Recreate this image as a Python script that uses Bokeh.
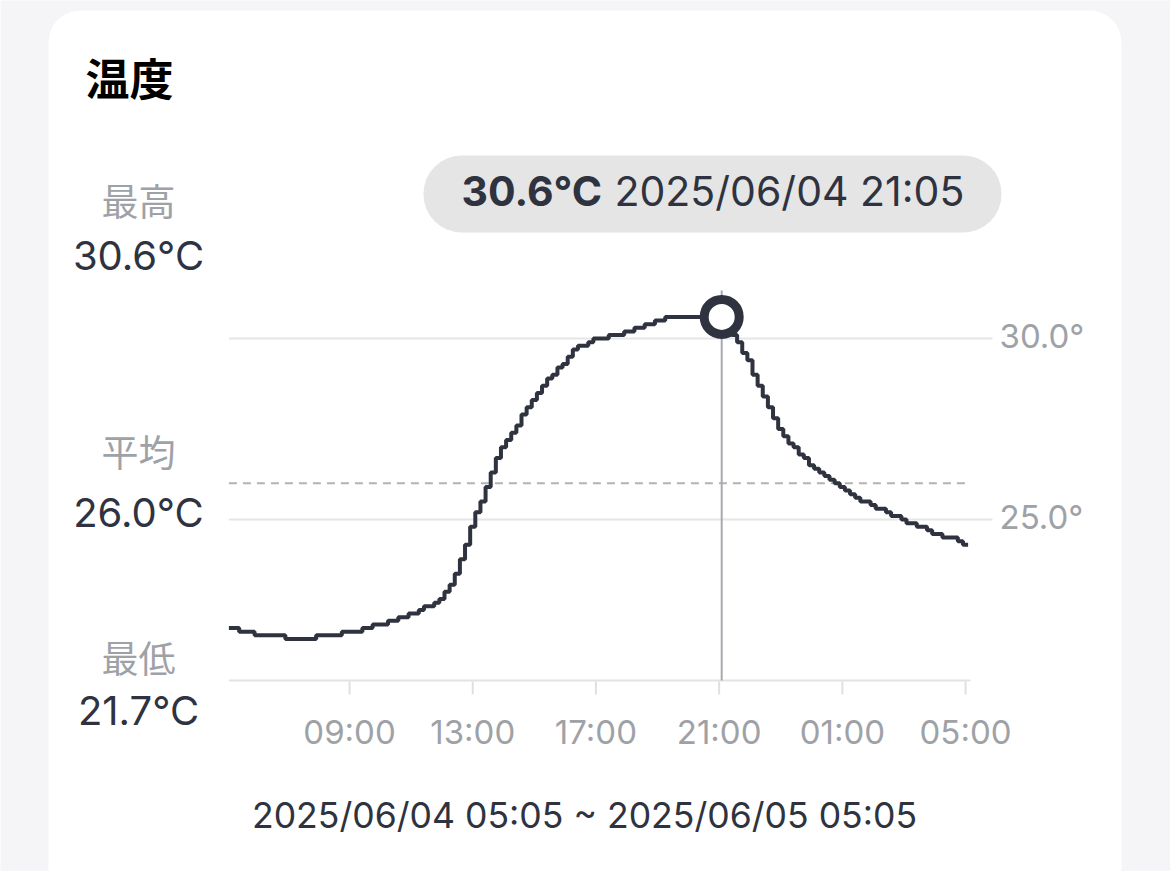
import pandas as pd
from bokeh.plotting import figure
from bokeh.models import Range1d, ColumnDataSource
from bokeh.core.properties import value
from bokeh.embed import file_html
from bokeh.resources import INLINE

# ---------------- data ----------------
title_text = "温度"
stat_names = ["最高", "平均", "最低"]
stat_values = [30.6, 26.0, 21.7]          # max, avg, min (°C)
start_time = "2025-06-04 05:05"
end_time = "2025-06-05 05:05"
sample_step = "10min"
temps = [
    22.0, 22.0, 21.9, 21.9, 21.9, 21.8,
    21.8, 21.8, 21.8, 21.8, 21.8, 21.7,
    21.7, 21.7, 21.7, 21.7, 21.7, 21.8,
    21.8, 21.8, 21.8, 21.8, 21.9, 21.9,
    21.9, 21.9, 22.0, 22.0, 22.1, 22.1,
    22.1, 22.2, 22.2, 22.3, 22.3, 22.4,
    22.4, 22.5, 22.6, 22.6, 22.7, 22.8,
    23.0, 23.2, 23.5, 23.9, 24.3, 24.8,
    25.2, 25.5, 25.9, 26.3, 26.7, 27.0,
    27.2, 27.4, 27.6, 27.9, 28.1, 28.3,
    28.5, 28.7, 28.9, 29.0, 29.2, 29.3,
    29.5, 29.7, 29.8, 29.8, 29.9, 30.0,
    30.0, 30.0, 30.1, 30.1, 30.1, 30.2,
    30.2, 30.3, 30.3, 30.4, 30.4, 30.5,
    30.5, 30.6, 30.6, 30.6, 30.6, 30.6,
    30.6, 30.6, 30.6, 30.6, 30.6, 30.6,
    30.6, 30.3, 30.1, 29.9, 29.6, 29.4,
    29.0, 28.7, 28.4, 28.1, 27.8, 27.5,
    27.3, 27.1, 27.0, 26.8, 26.7, 26.5,
    26.4, 26.3, 26.2, 26.1, 26.0, 25.9,
    25.8, 25.7, 25.6, 25.5, 25.5, 25.4,
    25.3, 25.3, 25.2, 25.1, 25.1, 25.0,
    24.9, 24.9, 24.8, 24.8, 24.7, 24.6,
    24.6, 24.5, 24.5, 24.5, 24.4, 24.3,
    24.3,
]
x_tick_times = ["2025-06-04 09:00", "2025-06-04 13:00", "2025-06-04 17:00",
                "2025-06-04 21:00", "2025-06-05 01:00", "2025-06-05 05:00"]
x_tick_labels = ["09:00", "13:00", "17:00", "21:00", "01:00", "05:00"]
y_ticks = [30.0, 25.0]
y_tick_labels = ["30.0°", "25.0°"]
temp_floor = 20.55      # value at the bottom of the plot area
temp_ceiling = 31.33    # value at the top of the plot area
max_time = "2025-06-04 21:05"
tooltip_value = "30.6°C"
tooltip_time = "2025/06/04 21:05"
range_text = "2025/06/04 05:05 ~ 2025/06/05 05:05"

# ---------------- layout (canvas pixels, y down) ----------------
W, H = 1170, 871
PLOT_L, PLOT_R = 228.4, 967.6       # pixel span of start_time .. end_time
Y_HI_PX, Y_LO_PX = 290.0, 680.0     # pixel span of temp_ceiling .. temp_floor

def ms(s):
    return pd.Timestamp(s).value / 1e6

t0, t1 = ms(start_time), ms(end_time)
ms_per_px = (t1 - t0) / (PLOT_R - PLOT_L)
deg_per_px = (temp_ceiling - temp_floor) / (Y_LO_PX - Y_HI_PX)

DARK = "#2f3340"
GRAY_TXT = "#9ea2a7"
GRID = "#e6e6e6"
LATIN = "Inter"
CJK = "Noto Sans CJK JP"

p = figure(width=W, height=H, x_range=Range1d(0, W), y_range=Range1d(H, 0),
           output_backend="svg", toolbar_location=None, min_border=0,
           x_axis_location=None, y_axis_location=None)
p.extra_x_ranges = {"time": Range1d(t0 - PLOT_L * ms_per_px, t0 + (W - PLOT_L) * ms_per_px)}
p.extra_y_ranges = {"temp": Range1d(temp_floor - (H - Y_LO_PX) * deg_per_px,
                                    temp_floor + Y_LO_PX * deg_per_px)}
p.grid.visible = False
p.outline_line_color = None
p.border_fill_color = "#f5f5f7"
p.background_fill_color = "#f5f5f7"

# card and tooltip pill
p.quad(left=[48], right=[1121], top=[10], bottom=[920], fill_color="white",
       line_color=None, border_radius=32)
p.quad(left=[423], right=[1001], top=[155], bottom=[232], fill_color="#e5e5e5",
       line_color=None, border_radius=38)

# horizontal grid lines (with their right-hand tick extension)
p.segment(x0=[PLOT_L] * len(y_ticks), x1=[992] * len(y_ticks), y0=y_ticks, y1=y_ticks,
          y_range_name="temp", line_color=GRID, line_width=2)
p.text(x=[999] * len(y_ticks), y=[v + 0.08 for v in y_ticks], text=y_tick_labels,
       y_range_name="temp", text_font=value(LATIN), text_font_size="33px",
       text_color=GRAY_TXT, text_align="left", text_baseline="middle")

# bottom axis
p.segment(x0=[PLOT_L], x1=[970], y0=[temp_floor], y1=[temp_floor], y_range_name="temp",
          line_color="#e3e3e3", line_width=2)
tick_ms = [ms(t) for t in x_tick_times]
p.segment(x0=tick_ms, x1=tick_ms, y0=[681] * len(tick_ms), y1=[694] * len(tick_ms),
          x_range_name="time", line_color="#e0e0e0", line_width=2)
p.text(x=tick_ms, y=[731] * len(tick_ms), text=x_tick_labels, x_range_name="time",
       text_font=value(LATIN), text_font_size="33px", text_color=GRAY_TXT,
       text_align="center", text_baseline="middle")

# average line and cursor
p.segment(x0=[t0], x1=[t1], y0=[stat_values[1]], y1=[stat_values[1]],
          x_range_name="time", y_range_name="temp",
          line_color="#b3b3b3", line_width=2, line_dash="8 6")
p.segment(x0=[ms(max_time)], x1=[ms(max_time)], y0=[temp_floor], y1=[temp_ceiling],
          x_range_name="time", y_range_name="temp", line_color="#a6aaae", line_width=2)

# data line
times = pd.date_range(start_time, periods=len(temps), freq=sample_step)
src = ColumnDataSource(dict(t=[ms(t) for t in times], v=temps))
p.step("t", "v", source=src, mode="after", x_range_name="time", y_range_name="temp",
       line_color=DARK, line_width=4)
p.scatter([ms(max_time)], [stat_values[0]], x_range_name="time", y_range_name="temp",
          size=35, fill_color="white", line_color=DARK, line_width=9)

# texts
def txt(x, y, text, font=LATIN, size="40px", color=DARK, align="center", style="normal"):
    p.text(x=[x], y=[y], text=[text], text_font=value(font), text_font_size=size,
           text_color=color, text_align=align, text_baseline="middle",
           text_font_style=style)

txt(85, 76, title_text, font=CJK, size="44px", color="black", align="left", style="bold")

stat_name_y = [199, 450, 656]
stat_val_y = [255, 512, 710]
for name, val, ny, vy in zip(stat_names, stat_values, stat_name_y, stat_val_y):
    txt(138, ny, name, font=CJK, size="37px", color=GRAY_TXT)
    txt(138, vy, f"{val:.1f}°C", size="40px")

txt(461, 190, tooltip_value, size="41px", align="left", style="bold")
txt(614, 190, tooltip_time, size="41px", align="left")

txt(584, 815, range_text, size="35.6px")

open("out.html", "w").write(file_html(p, INLINE))
